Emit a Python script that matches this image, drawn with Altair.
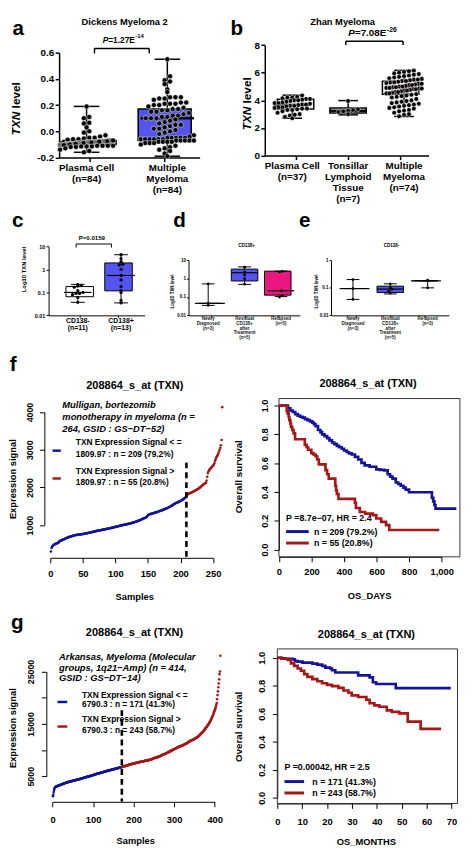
import math
import altair as alt
import pandas as pd

OFF = 8
W, H = 464, 849
FONT = "Liberation Sans"
BOX_BLUE = "#5454F0"
PINK = "#EC1680"
R_BLUE = "#13139C"
R_RED = "#A61717"

# ---------------- values ----------------
# (a) Dickens Myeloma 2
a_labels = [["Plasma Cell", "(n=84)"], ["Multiple", "Myeloma", "(n=84)"]]
a_pc = [0.19, 0.11, 0.10, 0.065, 0.06, 0.03, 0.00, -0.01, -0.03, -0.04,
        -0.05, -0.05, -0.055, -0.06, -0.06, -0.065, -0.07, -0.07, -0.07, -0.07,
        -0.07, -0.07, -0.075, -0.075, -0.075, -0.075, -0.075, -0.075, -0.075, -0.075,
        -0.08, -0.08, -0.08, -0.08, -0.08, -0.08, -0.08, -0.08, -0.085, -0.085,
        -0.085, -0.085, -0.085, -0.085, -0.085, -0.085, -0.09, -0.09, -0.09, -0.09,
        -0.09, -0.09, -0.09, -0.09, -0.095, -0.095, -0.095, -0.095, -0.095, -0.095,
        -0.10, -0.10, -0.10, -0.10, -0.10, -0.10, -0.105, -0.105, -0.105, -0.105,
        -0.105, -0.11, -0.11, -0.11, -0.11, -0.115, -0.115, -0.115, -0.12, -0.12,
        -0.13, -0.14, -0.15, -0.16]
a_mm = [0.55, 0.42, 0.39, 0.38, 0.36, 0.32, 0.30,
        0.26, 0.26, 0.26, 0.25, 0.25, 0.24,
        0.22, 0.22, 0.21, 0.21, 0.21, 0.20, 0.20, 0.19,
        0.18, 0.17, 0.17, 0.16, 0.16, 0.15, 0.15, 0.14,
        0.13, 0.12, 0.12, 0.11, 0.11, 0.10, 0.10, 0.10, 0.09, 0.08,
        0.07, 0.06, 0.05, 0.05, 0.04, 0.03, 0.02, 0.02, 0.01, 0.00,
        -0.01, -0.02, -0.03, -0.04,
        -0.05, -0.05, -0.05, -0.05, -0.05, -0.06, -0.06, -0.06, -0.06, -0.06, -0.06,
        -0.07, -0.07, -0.07, -0.07, -0.07, -0.08, -0.08, -0.08, -0.08, -0.09, -0.09, -0.09,
        -0.10, -0.11, -0.12, -0.13, -0.14, -0.15, -0.17, -0.19]
a_min = [-0.16, -0.19]
a_q1 = [-0.10, -0.07]
a_med = [-0.085, 0.10]
a_q3 = [-0.07, 0.17]
a_max = [0.19, 0.55]

# (b) Zhan Myeloma
b_labels = [["Plasma Cell", "(n=37)"], ["Tonsillar", "Lymphoid", "Tissue", "(n=7)"],
            ["Multiple", "Myeloma", "(n=74)"]]
b_pc = [4.35, 4.25, 4.2, 4.2, 4.15, 4.1, 4.1, 4.05, 4.0, 4.0,
        3.95, 3.9, 3.85, 3.8, 3.8, 3.75, 3.7, 3.7, 3.65, 3.6,
        3.6, 3.55, 3.5, 3.5, 3.45, 3.4, 3.4, 3.35, 3.3, 3.3,
        3.2, 3.1, 3.0, 2.95, 2.9, 2.8, 2.7]
b_tl = [3.95, 3.35, 3.3, 3.25, 3.2, 3.15, 3.0]
b_mm = [6.15, 6.1, 6.05, 6.0, 5.95, 5.9, 5.85, 5.8, 5.75, 5.7,
        5.65, 5.6, 5.55, 5.5, 5.5, 5.45, 5.4, 5.4, 5.35, 5.3,
        5.3, 5.25, 5.2, 5.2, 5.15, 5.1, 5.1, 5.05, 5.0, 5.0,
        4.95, 4.95, 4.9, 4.9, 4.85, 4.85, 4.8, 4.8, 4.75, 4.7,
        4.7, 4.65, 4.6, 4.6, 4.55, 4.5, 4.5, 4.45, 4.4, 4.35,
        4.3, 4.25, 4.2, 4.1, 4.0, 3.95, 3.9, 3.85, 3.8, 3.75,
        3.7, 3.65, 3.6, 3.55, 3.5, 3.45, 3.4, 3.3, 3.25, 3.2,
        3.1, 3.0, 2.95, 2.85]
b_min = [2.70, 2.95, 2.83]
b_q1 = [3.37, 3.09, 4.44]
b_med = [3.66, 3.25, 4.90]
b_q3 = [4.08, 3.45, 5.39]
b_max = [4.37, 3.98, 6.17]

# (c) CD138- vs CD138+
c_labels = [["CD138-", "(n=11)"], ["CD138+", "(n=13)"]]
c_neg = [0.22, 0.20, 0.19, 0.17, 0.12, 0.10, 0.09, 0.09, 0.08, 0.06, 0.037]
c_pos = [4.4, 3.0, 2.2, 1.7, 1.6, 1.0, 0.55, 0.35, 0.18, 0.12, 0.10, 0.045, 0.035]
c_min = [0.037, 0.035]
c_q1 = [0.065, 0.117]
c_med = [0.10, 0.55]
c_q3 = [0.18, 1.93]
c_max = [0.226, 4.4]

# (d) CD138+
d_labels = [["Newly", "Diagnosed", "(n=3)"], ["Residual", "CD138+", "after", "Treatment", "(n=5)"],
            ["Relapsed", "(n=5)"]]
d_new = [0.52, 0.045, 0.035]
d_res = [4.2, 2.3, 1.6, 1.0, 0.5]
d_rel = [2.5, 2.3, 0.22, 0.12, 0.10]
d_min = [0.035, 0.49, 0.105]
d_q1 = [0.045, 0.75, 0.126]
d_med = [0.045, 2.1, 0.22]
d_q3 = [0.045, 3.3, 2.57]
d_max = [0.52, 4.4, 2.57]

# (e) CD138-
e_labels = [["Newly", "Diagnosed", "(n=3)"], ["Residual", "CD138+", "after", "Treatment", "(n=5)"],
            ["Relapsed", "(n=3)"]]
e_new = [0.20, 0.094, 0.038]
e_res = [0.14, 0.10, 0.09, 0.075, 0.065]
e_rel = [0.19, 0.18, 0.10]
e_min = [0.038, 0.06, 0.10]
e_q1 = [0.094, 0.068, 0.18]
e_med = [0.094, 0.09, 0.18]
e_q3 = [0.094, 0.115, 0.18]
e_max = [0.20, 0.14, 0.18]

# (f) Mulligan, sorted expression signal (n = 264)
f_low = [300, 390, 430, 450, 470, 480, 490, 500, 510, 515,
         520, 530, 540, 570, 580, 585, 590, 600, 610, 615,
         625, 630, 640, 650, 655, 665, 670, 680, 685, 690,
         695, 700, 705, 710, 715, 720, 725, 730, 735, 738,
         740, 742, 745, 748, 750, 752, 755, 758, 760, 762,
         765, 768, 770, 775, 780, 783, 787, 790, 793, 797,
         800, 805, 810, 814, 818, 822, 826, 830, 835, 840,
         843, 846, 850, 853, 856, 860, 863, 866, 870, 874,
         878, 882, 885, 889, 892, 896, 900, 903, 907, 910,
         913, 917, 921, 925, 929, 933, 938, 943, 948, 952,
         957, 961, 965, 969, 973, 977, 981, 985, 990, 995,
         1000, 1003, 1007, 1010, 1014, 1018, 1021, 1025, 1028, 1032,
         1035, 1040, 1045, 1050, 1055, 1060, 1065, 1070, 1075, 1081,
         1087, 1094, 1100, 1106, 1112, 1118, 1125, 1132, 1140, 1148,
         1157, 1165, 1172, 1180, 1188, 1196, 1205, 1215, 1240, 1262,
         1278, 1283, 1288, 1293, 1298, 1303, 1308, 1313, 1320, 1325,
         1330, 1336, 1342, 1348, 1354, 1360, 1366, 1372, 1378, 1384,
         1390, 1397, 1404, 1411, 1418, 1425, 1432, 1439, 1446, 1453,
         1460, 1470, 1480, 1490, 1500, 1510, 1520, 1530, 1545, 1555,
         1565, 1575, 1585, 1592, 1600, 1608, 1615, 1622, 1630, 1640,
         1650, 1660, 1672, 1685, 1698, 1710, 1725, 1740, 1757]
f_high = [1812, 1820, 1828, 1836, 1844, 1852, 1860, 1868, 1876, 1884,
          1892, 1900, 1910, 1920, 1930, 1940, 1950, 1960, 1972, 1985,
          2000, 2015, 2030, 2045, 2060, 2075, 2090, 2100, 2110, 2130,
          2180, 2280, 2380, 2430, 2460, 2480, 2500, 2520, 2540, 2560,
          2580, 2600, 2640, 2700, 2750, 2800, 2830, 2860, 2900, 2950,
          3000, 3050, 3120, 3260, 4130]
f_cut = 209
# Kaplan-Meier steps (days, survival)
f_km_low = [(0, 1.0), (55, 0.98), (70, 0.965), (85, 0.955), (100, 0.94), (115, 0.93), (130, 0.922),
            (145, 0.916), (160, 0.905), (175, 0.898), (190, 0.89), (205, 0.88), (215, 0.87),
            (225, 0.857), (240, 0.83), (255, 0.815), (265, 0.80), (280, 0.787), (296, 0.773),
            (310, 0.758), (326, 0.743), (340, 0.732), (356, 0.72), (370, 0.71), (386, 0.70),
            (400, 0.688), (416, 0.677), (430, 0.668), (447, 0.66), (467, 0.643), (487, 0.625),
            (507, 0.602), (527, 0.584), (557, 0.575), (598, 0.557), (620, 0.553), (648, 0.55),
            (668, 0.523), (683, 0.507), (698, 0.493), (718, 0.466), (733, 0.455), (748, 0.443),
            (765, 0.43), (779, 0.416), (799, 0.398), (940, 0.36), (948, 0.335), (955, 0.31),
            (962, 0.285), (1090, 0.285)]
f_km_high = [(0, 1.0), (48, 0.96), (54, 0.943), (60, 0.92), (64, 0.898), (70, 0.875), (74, 0.852),
             (82, 0.83), (90, 0.807), (99, 0.766), (159, 0.727), (170, 0.71), (179, 0.693),
             (199, 0.67), (212, 0.66), (225, 0.648), (235, 0.625), (245, 0.591), (286, 0.552),
             (296, 0.523), (306, 0.493), (346, 0.443), (351, 0.41), (356, 0.386), (366, 0.352),
             (467, 0.325), (473, 0.289), (497, 0.261), (530, 0.25), (577, 0.239), (598, 0.216),
             (628, 0.193), (658, 0.17), (678, 0.136), (985, 0.136)]

# (g) Arkansas, sorted expression signal (n = 414)
g_low = [1200, 1500, 2000, 2400, 2700, 2850, 2950, 3000, 3050, 3080,
         3100, 3130, 3160, 3190, 3220, 3250, 3280, 3310, 3340, 3370,
         3400, 3430, 3460, 3490, 3520, 3550, 3580, 3610, 3640, 3670,
         3700, 3725, 3750, 3775, 3800, 3825, 3850, 3875, 3900, 3925,
         3950, 3970, 3990, 4010, 4030, 4050, 4070, 4090, 4110, 4130,
         4150, 4170, 4190, 4210, 4230, 4250, 4270, 4290, 4310, 4330,
         4350, 4370, 4390, 4410, 4430, 4450, 4470, 4490, 4510, 4530,
         4550, 4575, 4600, 4625, 4650, 4675, 4700, 4725, 4750, 4775,
         4800, 4820, 4840, 4860, 4880, 4900, 4920, 4940, 4960, 4980,
         5000, 5025, 5050, 5075, 5100, 5125, 5150, 5175, 5200, 5225,
         5250, 5275, 5300, 5325, 5350, 5375, 5400, 5425, 5450, 5475,
         5500, 5520, 5540, 5560, 5580, 5600, 5620, 5640, 5660, 5680,
         5700, 5725, 5750, 5775, 5800, 5825, 5850, 5875, 5900, 5925,
         5950, 5970, 5990, 6010, 6030, 6050, 6070, 6090, 6110, 6130,
         6150, 6170, 6190, 6210, 6230, 6250, 6270, 6290, 6310, 6330,
         6350, 6370, 6390, 6410, 6430, 6450, 6470, 6490, 6510, 6530,
         6550, 6575, 6600, 6620, 6640, 6660, 6690, 6710, 6730, 6750,
         6780]
g_high = [6800, 6820, 6840, 6860, 6880, 6900, 6920, 6950, 6975,
          7000, 7025, 7050, 7075, 7100, 7125, 7150, 7175, 7200, 7225,
          7250, 7270, 7290, 7310, 7330, 7350, 7370, 7390, 7410, 7430,
          7450, 7465, 7480, 7500, 7520, 7540, 7560, 7580, 7600, 7620,
          7640, 7660, 7680, 7700, 7715, 7730, 7745, 7760, 7775, 7790,
          7800, 7815, 7830, 7850, 7870, 7890, 7910, 7930, 7950, 7970,
          7990, 8005, 8020, 8040, 8060, 8075, 8090, 8105, 8120, 8135,
          8150, 8180, 8210, 8240, 8270, 8300, 8330, 8360, 8400, 8440,
          8480, 8500, 8520, 8540, 8560, 8580, 8600, 8620, 8650, 8680,
          8700, 8730, 8760, 8800, 8840, 8880, 8920, 8960, 9000, 9040,
          9080, 9110, 9140, 9170, 9200, 9230, 9260, 9300, 9340, 9370,
          9400, 9440, 9480, 9520, 9560, 9600, 9640, 9680, 9720, 9760,
          9800, 9840, 9880, 9920, 9960, 10000, 10040, 10080, 10120, 10160,
          10200, 10240, 10280, 10320, 10360, 10400, 10440, 10480, 10520, 10560,
          10600, 10630, 10660, 10690, 10720, 10750, 10780, 10810, 10840, 10870,
          10900, 10940, 10980, 11020, 11060, 11100, 11140, 11180, 11220, 11260,
          11300, 11350, 11400, 11450, 11500, 11550, 11600, 11650, 11700, 11750,
          11800, 11830, 11860, 11890, 11920, 11950, 11980, 12010, 12050, 12120,
          12200, 12240, 12280, 12320, 12360, 12400, 12450, 12500, 12570, 12640,
          12700, 12780, 12860, 12940, 13020, 13100, 13180, 13260, 13340, 13420,
          13500, 13600, 13700, 13800, 13900, 14000, 14100, 14200, 14300, 14400,
          14500, 14620, 14740, 14860, 14980, 15100, 15230, 15360, 15500, 15650,
          15800, 15980, 16160, 16340, 16520, 16700, 16900, 17150, 17400, 17600,
          17800, 18050, 18300, 18650, 19000, 19700, 20500, 21200, 22000, 22700,
          23500, 24500, 25000, 28000]
g_cut = 171
# Kaplan-Meier steps (months, survival)
g_km_low = [(0, 1.0), (1.6, 0.995), (2.9, 0.993), (6.2, 0.988), (7.1, 0.977), (8.2, 0.972),
            (10.1, 0.965), (14.1, 0.958), (16.1, 0.951), (18, 0.942), (19.3, 0.93), (21.3, 0.923),
            (22, 0.911), (23.3, 0.895), (32.5, 0.874), (37.1, 0.86), (38.4, 0.825), (39.7, 0.813),
            (47.6, 0.783), (69.7, 0.783)]
g_km_high = [(0, 1.0), (1.6, 0.993), (4.2, 0.984), (5.5, 0.96), (6.8, 0.942), (8.2, 0.923),
             (9.5, 0.907), (10.8, 0.883), (12.1, 0.864), (14.1, 0.848), (16.1, 0.832), (18, 0.818),
             (20, 0.806), (22, 0.797), (24.6, 0.785), (26.6, 0.766), (28.6, 0.75), (29.9, 0.731),
             (32.5, 0.72), (35.8, 0.70), (37.1, 0.675), (39, 0.66), (41, 0.65), (44, 0.625),
             (46, 0.614), (49, 0.603), (52.4, 0.544), (57.6, 0.493), (65.8, 0.493)]


# ---------------- helpers ----------------
def S(d0, d1, p0, p1, log=False):
    if log:
        return alt.Scale(type="log", domain=[d0, d1], range=[p0 - OFF, p1 - OFF], nice=False)
    return alt.Scale(domain=[d0, d1], range=[p0 - OFF, p1 - OFF], nice=False, zero=False)


def M(d0, d1, p0, p1, log=False):
    if log:
        l0, l1 = math.log10(d0), math.log10(d1)
        return lambda v: p0 + (math.log10(v) - l0) / (l1 - l0) * (p1 - p0)
    return lambda v: p0 + (v - d0) / (d1 - d0) * (p1 - p0)


def axis(orient, at, **kw):
    base = dict(grid=False, title=None, labelFont=FONT, labelFontWeight="bold", labelColor="black",
                domainColor="black", tickColor="black", labelFlush=False, labelOverlap=False)
    base.update(kw)
    off = -(at - OFF) if orient == "left" else (at - OFF) - H
    return alt.Axis(orient=orient, offset=off, **base)


def T(rows, size, weight="bold", style="normal", align="center", baseline="middle", angle=0,
      color="black"):
    df = pd.DataFrame([dict(x=r[0] - OFF, y=r[1] - OFF, t=r[2]) for r in rows])
    return alt.Chart(df).mark_text(font=FONT, fontSize=size, fontWeight=weight, fontStyle=style,
                                   align=align, baseline=baseline, angle=angle, color=color).encode(
        x=alt.X("x:Q", scale=None, axis=None), y=alt.Y("y:Q", scale=None, axis=None), text="t:N")


def R(rows, width, color="black"):
    df = pd.DataFrame([dict(x=a - OFF, y=b - OFF, x2=c - OFF, y2=d - OFF) for a, b, c, d in rows])
    return alt.Chart(df).mark_rule(strokeWidth=width, color=color).encode(
        x=alt.X("x:Q", scale=None, axis=None), y=alt.Y("y:Q", scale=None, axis=None),
        x2="x2:Q", y2="y2:Q")


def swarm(vals, pos, ymap, xppu, diam, maxw):
    order = sorted(range(len(vals)), key=lambda i: vals[i])
    bins = {}
    for i in order:
        bins.setdefault(round(ymap(vals[i]) / diam), []).append(i)
    out = [pos] * len(vals)
    for idx in bins.values():
        n = len(idx)
        sp = diam if n < 2 else min(diam, 2 * maxw / (n - 1))
        for k, i in enumerate(idx):
            out[i] = pos + (k - (n - 1) / 2) * sp / xppu
    return out


def box_panel(xd, yd, log, mn, q1, md, q3, mx, fills, medcols, groups, box_w, cap_w, lw, med_w,
              pt_size, diam, maxw, xax, yax, pt_stroke=0.0, med_top=True):
    xs, ys = S(*xd), S(*yd, log=log)
    ym = M(*yd, log=log)
    xppu = (xd[3] - xd[2]) / (xd[1] - xd[0])
    pos = list(range(1, len(mn) + 1))
    st = pd.DataFrame(dict(pos=pos, mn=mn, q1=q1, md=md, q3=q3, mx=mx, fill=fills, mc=medcols))
    caps = pd.DataFrame(dict(pos=pos + pos, v=mn + mx))
    prow = []
    for p, vals in zip(pos, groups):
        for xx, vv in zip(swarm(vals, p, ym, xppu, diam, maxw), vals):
            prow.append(dict(x=xx, v=vv))
    pts = pd.DataFrame(prow)

    def X(f, ax=None):
        return alt.X(f, type="quantitative", scale=xs, axis=ax)

    def Y(f, ax=None):
        return alt.Y(f, type="quantitative", scale=ys, axis=ax)

    L = [
        alt.Chart(st).mark_rule(color="black", strokeWidth=lw).encode(x=X("pos"), y=Y("mn"), y2="mx"),
        alt.Chart(st).mark_bar(size=box_w, stroke="black", strokeWidth=lw, opacity=1).encode(
            x=X("pos", xax), y=Y("q1", yax), y2="q3", fill=alt.Fill("fill:N", scale=None)),
        alt.Chart(caps).mark_tick(orient="horizontal", size=cap_w, thickness=lw, color="black",
                                  opacity=1).encode(x=X("pos"), y=Y("v")),
    ]
    med = alt.Chart(st).mark_tick(orient="horizontal", size=box_w, thickness=med_w, opacity=1).encode(
        x=X("pos"), y=Y("md"), color=alt.Color("mc:N", scale=None))
    if pt_stroke > 0:
        dots = alt.Chart(pts).mark_circle(size=pt_size, color="black", opacity=1, stroke="white",
                                          strokeWidth=pt_stroke)
    else:
        dots = alt.Chart(pts).mark_circle(size=pt_size, color="black", opacity=1)
    dots = dots.encode(x=X("x"), y=Y("v"))
    L += [dots, med] if med_top else [med, dots]
    return L


def cat_labels(xd, labels, y0, lh, size, weight="bold", color="black"):
    xm = M(*xd)
    rows = []
    for k, lines in enumerate(labels):
        for j, s in enumerate(lines):
            rows.append((xm(k + 1), y0 + j * lh, s))
    return T(rows, size, weight=weight, color=color)


def r_scatter(low, high, cut, xd, yd, xax, yax, dash_top, dash_bot, size):
    xs, ys = S(*xd), S(*yd)
    n1 = len(low)
    df = pd.DataFrame(dict(i=list(range(1, n1 + len(high) + 1)), v=low + high,
                           c=[R_BLUE] * n1 + [R_RED] * len(high)))
    dots = alt.Chart(df).mark_circle(size=size, opacity=1).encode(
        x=alt.X("i:Q", scale=xs, axis=xax), y=alt.Y("v:Q", scale=ys, axis=yax),
        color=alt.Color("c:N", scale=None))
    dash = alt.Chart(pd.DataFrame(dict(t=[cut]))).mark_rule(
        strokeDash=[6, 4], strokeWidth=2.6, color="black").encode(
        x=alt.X("t:Q", scale=xs, axis=None), y=alt.value(dash_top - OFF), y2=alt.value(dash_bot - OFF))
    return [dots, dash]


def km(low, high, xd, yd, frame, xax, yax):
    xs, ys = S(*xd), S(*yd)
    fr = pd.DataFrame(dict(x0=[frame[0]], x1=[frame[1]], y0=[frame[2]], y1=[frame[3]]))
    L = [alt.Chart(fr).mark_rect(fillOpacity=0, stroke="#333333", strokeWidth=1).encode(
        x=alt.X("x0:Q", scale=xs, axis=xax), x2="x1:Q", y=alt.Y("y0:Q", scale=ys, axis=yax), y2="y1:Q")]
    for pairs, col in ((low, R_BLUE), (high, R_RED)):
        df = pd.DataFrame(pairs, columns=["t", "s"])
        L.append(alt.Chart(df).mark_line(interpolate="step-after", strokeWidth=2.7, color=col).encode(
            x=alt.X("t:Q", scale=xs, axis=None), y=alt.Y("s:Q", scale=ys, axis=None)))
    return L


NEG = "datum.value < 0 ? '-' + format(-datum.value, '.1f') : format(datum.value, '.1f')"
layers = []

# ---- panel a ----
a_xd, a_yd = (0.66, 2.4, 60, 203), (-0.2, 0.6, 152.7, 46)
layers += box_panel(a_xd, a_yd, False, a_min, a_q1, a_med, a_q3, a_max, ["#ffffff", BOX_BLUE],
                    ["black", "black"], [a_pc, a_mm], 54, 26, 1.5, 2.5, 26, 5.5, 27,
                    axis("bottom", 152.7, values=[1, 2], labels=False, tickSize=4, tickWidth=1.5,
                         domainWidth=1.5),
                    axis("left", 60, values=[-0.2, 0, 0.2, 0.4, 0.6], labelExpr=NEG, tickSize=4,
                         tickWidth=1.5, domainWidth=1.5, labelFontSize=10, labelPadding=1.5),
                    pt_stroke=0.5, med_top=False)
layers.append(cat_labels(a_xd, a_labels, 163.3, 11, 10))

# ---- panel b ----
b_xd, b_yd = (0.508, 3.44, 269.3, 436), (0, 8, 150.7, 38.3)
layers += box_panel(b_xd, b_yd, False, b_min, b_q1, b_med, b_q3, b_max, ["#ffffff", "#ffffff", "#ffffff"],
                    ["black", "black", PINK], [b_pc, b_tl, b_mm], 37, 20, 1.5, 2.5, 22, 5, 18,
                    axis("bottom", 150.7, values=[1, 2, 3], labels=False, tickSize=4, tickWidth=1.5,
                         domainWidth=1.5),
                    axis("left", 269.3, values=[0, 2, 4, 6, 8], format="d", tickSize=4, tickWidth=1.5,
                         domainWidth=1.5, labelFontSize=10, labelPadding=1.5),
                    pt_stroke=0.5, med_top=False)
layers.append(cat_labels(b_xd, b_labels, 161.7, 11.2, 10))

# ---- panel c ----
c_xd, c_yd = (0.325, 2.545, 49.3, 147), (0.01, 10, 313.3, 243.3)
layers += box_panel(c_xd, c_yd, True, c_min, c_q1, c_med, c_q3, c_max, ["#ffffff", BOX_BLUE],
                    ["black", "black"], [c_neg, c_pos], 28, 14, 1, 1.2, 11, 3.6, 11,
                    axis("bottom", 313.3, values=[1, 2], labels=False, tickSize=2, tickWidth=1,
                         domainWidth=1),
                    axis("left", 49.3, values=[0.01, 0.1, 1, 10], format="~g", tickSize=2.5, tickWidth=1,
                         domainWidth=1, labelFontSize=5.5, labelPadding=1.5))
layers.append(cat_labels(c_xd, c_labels, 319, 7, 7))

# ---- panel d ----
d_xd, d_yd = (0.46, 3.518, 191.7, 305), (0.01, 10, 313.3, 257.3)
layers += box_panel(d_xd, d_yd, True, d_min, d_q1, d_med, d_q3, d_max, ["#ffffff", BOX_BLUE, PINK],
                    ["black", "black", "black"], [d_new, d_res, d_rel], 27, 13, 1, 1.2, 8, 3, 8,
                    axis("bottom", 313.3, values=[1, 2, 3], labels=False, tickSize=2, tickWidth=1,
                         domainWidth=1),
                    axis("left", 191.7, values=[0.01, 0.1, 1, 10], format="~g", tickSize=2, tickWidth=1,
                         domainWidth=1, labelFontSize=4.6, labelPadding=1))
layers.append(cat_labels(d_xd, d_labels, 316.7, 5, 4.6, color="#222222"))

# ---- panel e ----
e_xd, e_yd = (0.413, 3.571, 336.7, 456.7), (0.01, 1, 313.3, 257.3)
layers += box_panel(e_xd, e_yd, True, e_min, e_q1, e_med, e_q3, e_max, ["#ffffff", BOX_BLUE, "#ffffff"],
                    ["black", "black", "black"], [e_new, e_res, e_rel], 27, 13, 1, 1.2, 8, 3, 8,
                    axis("bottom", 313.3, values=[1, 2, 3], labels=False, tickSize=2, tickWidth=1,
                         domainWidth=1),
                    axis("left", 336.7, values=[0.01, 0.1, 1], format="~g", tickSize=2, tickWidth=1,
                         domainWidth=1, labelFontSize=4.6, labelPadding=1))
layers.append(cat_labels(e_xd, e_labels, 316.7, 5, 4.6, color="#222222"))

# ---- R-style axes ----
RAX = dict(tickSize=5, tickWidth=1, domainWidth=1)
RY = dict(labelAngle=270, labelAlign="center", labelBaseline="bottom")

# ---- panel f ----
layers += r_scatter(f_low, f_high, f_cut, (0, 250, 51, 216.7), (1000, 4000, 526.7, 411.7),
                    axis("bottom", 560, values=[0, 50, 100, 150, 200, 250], labelFontSize=9.5,
                         labelPadding=6, **RAX),
                    axis("left", 45, values=[1000, 2000, 3000, 4000], format="d", labelFontSize=9,
                         labelPadding=5, **RAX, **RY),
                    463, 560, 7)
layers += km(f_km_low, f_km_high, (0, 1000, 283.7, 449.3), (0, 1, 551.7, 405), (0, 1112, -0.05, 1.048),
             axis("bottom", 559, values=[0, 200, 400, 600, 800, 1000], labelFontSize=9.5,
                  labelPadding=5, **RAX),
             axis("left", 283.7, values=[0, 0.2, 0.4, 0.6, 0.8, 1.0], format=".1f", labelFontSize=9.5,
                  labelPadding=5, **RAX, **RY))

# ---- panel g ----
layers += r_scatter(g_low, g_high, g_cut, (0, 400, 53.3, 218.3), (5000, 25000, 782.3, 675.7),
                    axis("bottom", 808.3, values=[0, 100, 200, 300, 400], labelFontSize=9.5,
                         labelPadding=8, **RAX),
                    axis("left", 47, values=[5000, 10000, 15000, 20000, 25000],
                         labelExpr="datum.value % 10000 == 5000 ? format(datum.value, 'd') : ''",
                         labelFontSize=9, labelPadding=6, **RAX, **RY),
                    715, 808, 7)
layers += km(g_km_low, g_km_high, (0, 70, 282, 459.3), (0, 1, 804.3, 661.7), (0, 72.4, -0.04, 1.063),
             axis("bottom", 810, values=[0, 10, 20, 30, 40, 50, 60, 70], labelFontSize=9.5,
                  labelPadding=8, **RAX),
             axis("left", 282, values=[0, 0.2, 0.4, 0.6, 0.8, 1.0], format=".1f", labelFontSize=9.5,
                  labelPadding=6, **RAX, **RY))

# ---- brackets and legend keys ----
layers.append(R([(96, 41.7, 151.7, 41.7), (96, 41.7, 96, 46.7), (151.7, 41.7, 151.7, 46.7),
                 (351.7, 34.3, 410, 34.3), (351.7, 34.3, 351.7, 38.3), (410, 34.3, 410, 38.3)], 1.5))
layers.append(R([(77.3, 240.7, 113.3, 240.7), (77.3, 240.7, 77.3, 244.3), (113.3, 240.7, 113.3, 244.3)], 1))
layers.append(R([(53.3, 451, 61.7, 451), (58.3, 706.7, 68.3, 706.7)], 2.5, R_BLUE))
layers.append(R([(53.3, 479.3, 61.7, 479.3), (58.3, 731.7, 68.3, 731.7)], 2.5, R_RED))
layers.append(R([(291, 533.3, 314, 533.3), (289.3, 787.7, 309.3, 787.7)], 3, R_BLUE))
layers.append(R([(291, 545, 314, 545), (289.3, 799.3, 309.3, 799.3)], 3, R_RED))

# ---- texts ----
layers.append(T([(18.3, 28.3, "a"), (240.7, 28.3, "b"), (18, 223.3, "c"), (182.5, 223.3, "d"),
                 (310, 223.3, "e"), (13.3, 370, "f"), (17.5, 632, "g")], 21, baseline="alphabetic"))
layers.append(T([(126.7, 15, "Dickens Myeloma 2"), (348.5, 15, "Zhan Myeloma")], 9.5))
layers.append(T([(104.3, 36.3, "P")], 8.5, style="italic", align="left", baseline="alphabetic"))
layers.append(T([(110, 36.3, "=1.27E")], 8.5, align="left", baseline="alphabetic"))
layers.append(T([(137.5, 31.5, "-14")], 6, align="left", baseline="alphabetic"))
layers.append(T([(354.3, 29.5, "P")], 10, style="italic", align="left", baseline="alphabetic"))
layers.append(T([(361, 29.5, "=7.08E")], 10, align="left", baseline="alphabetic"))
layers.append(T([(393.5, 24.5, "-26")], 7, align="left", baseline="alphabetic"))
layers.append(T([(16, 130, "TXN"), (251, 125, "TXN")], 12, style="italic", align="left", angle=270))
layers.append(T([(16, 102.7, "level"), (251, 97.7, "level")], 12, align="left", angle=270))
layers.append(T([(93.3, 235, "P=0.0159")], 6.2))
layers.append(T([(24, 266.7, "Log10 TXN level")], 6, angle=270))
layers.append(T([(175.5, 289, "Log10 TXN level"), (322.7, 289, "Log10 TXN level")], 4.5, angle=270))
layers.append(T([(250.7, 242.7, "CD138+"), (398.3, 242.7, "CD138-")], 4.6))
layers.append(T([(137, 385, "208864_s_at (TXN)"), (374.3, 383.3, "208864_s_at (TXN)"),
                 (136.7, 636.7, "208864_s_at (TXN)"), (372.7, 638.3, "208864_s_at (TXN)")], 11.2))
layers.append(T([(137, 600, "Samples"), (376, 599, "OS_DAYS"), (138, 848.3, "Samples"),
                 (372.7, 849.3, "OS_MONTHS")], 9.5))
layers.append(T([(13.5, 480, "Expression signal"), (13.5, 733.3, "Expression signal")], 9.5, angle=270))
layers.append(T([(242.7, 477.5, "Overall survival"), (242.7, 732, "Overal survival")], 10, angle=270))
layers.append(T([(63.3, 405, "Mulligan, bortezomib"), (63.3, 417, "monotherapy in myeloma (n ="),
                 (63.3, 429, "264, GSID : GS\u2212DT\u221252)"),
                 (60, 660.7, "Arkansas, Myeloma (Molecular"), (60, 671.7, "groups, 1q21\u2212Amp) (n = 414,"),
                 (60, 682.7, "GSID : GS\u2212DT\u221214)")], 9.5, style="italic", align="left"))
layers.append(T([(77, 442.7, "TXN Expression Signal < ="), (77, 454.3, "1809.97 : n = 209 (79.2%)"),
                 (77, 471.7, "TXN Expression Signal >"), (77, 482.7, "1809.97 : n = 55 (20.8%)"),
                 (83.3, 699.3, "TXN Expression Signal < ="), (83.3, 709, "6790.3 : n = 171 (41.3%)"),
                 (83.3, 724, "TXN Expression Signal >"), (83.3, 735, "6790.3 : n = 243 (58.7%)")],
                8.5, align="left"))
layers.append(T([(291, 519.3, "P =8.7e\u221207, HR = 2.4"), (319.3, 533.3, "n = 209 (79.2%)"),
                 (319.3, 545, "n = 55 (20.8%)"), (289.3, 772.7, "P =0.00042, HR = 2.5"),
                 (317.7, 787.7, "n = 171 (41.3%)"), (317.7, 799.3, "n = 243 (58.7%)")], 9, align="left"))

chart = alt.layer(*layers).resolve_scale(x="independent", y="independent").properties(
    width=W, height=H, autosize=alt.AutoSizeParams(type="none"), padding=0, background="white"
).configure_view(strokeWidth=0)

chart.save("out.html", embed_options={"renderer": "svg", "actions": False})
